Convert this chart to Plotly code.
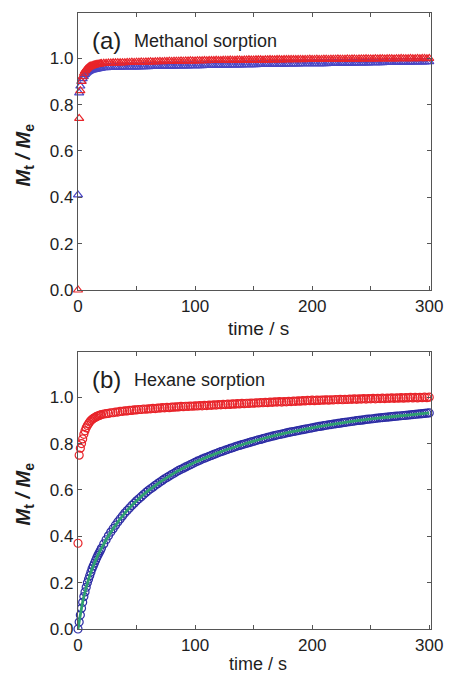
import plotly.graph_objects as go

# ---------------- data ----------------
time_s = [0, 1, 2, 3, 4, 5, 6, 7, 8, 9, 10, 11, 12, 13, 14, 15, 16, 17, 18, 19, 20,
          22, 24, 26, 28, 30, 32, 34, 36, 38, 40,
          42, 44, 46, 48, 50, 52, 54, 56, 58, 60,
          62, 64, 66, 68, 70, 72, 74, 76, 78, 80,
          82, 84, 86, 88, 90, 92, 94, 96, 98, 100,
          102, 104, 106, 108, 110, 112, 114, 116, 118, 120,
          122, 124, 126, 128, 130, 132, 134, 136, 138, 140,
          142, 144, 146, 148, 150, 152, 154, 156, 158, 160,
          162, 164, 166, 168, 170, 172, 174, 176, 178, 180,
          182, 184, 186, 188, 190, 192, 194, 196, 198, 200,
          202, 204, 206, 208, 210, 212, 214, 216, 218, 220,
          222, 224, 226, 228, 230, 232, 234, 236, 238, 240,
          242, 244, 246, 248, 250, 252, 254, 256, 258, 260,
          262, 264, 266, 268, 270, 272, 274, 276, 278, 280,
          282, 284, 286, 288, 290, 292, 294, 296, 298, 300]

methanol_red = [0.00, 0.74, 0.86, 0.90, 0.92, 0.935, 0.945, 0.952, 0.957, 0.961, 0.964,
                0.966, 0.968, 0.970, 0.971, 0.972, 0.973, 0.974, 0.975, 0.976, 0.977,
                0.978, 0.978, 0.979, 0.979, 0.980, 0.980, 0.981, 0.980, 0.981, 0.981,
                0.982, 0.982, 0.983, 0.982, 0.983, 0.983, 0.984, 0.983, 0.984, 0.984,
                0.985, 0.984, 0.985, 0.985, 0.986, 0.985, 0.986, 0.986, 0.987, 0.986,
                0.987, 0.987, 0.987, 0.988, 0.987, 0.988, 0.988, 0.989, 0.988, 0.988,
                0.989, 0.989, 0.989, 0.990, 0.989, 0.990, 0.990, 0.990, 0.991, 0.990,
                0.990, 0.991, 0.991, 0.991, 0.992, 0.991, 0.991, 0.992, 0.992, 0.991,
                0.992, 0.992, 0.993, 0.992, 0.992, 0.993, 0.993, 0.993, 0.992, 0.993,
                0.993, 0.994, 0.993, 0.993, 0.994, 0.994, 0.993, 0.994, 0.994, 0.994,
                0.995, 0.994, 0.994, 0.995, 0.995, 0.994, 0.995, 0.995, 0.996, 0.995,
                0.995, 0.996, 0.995, 0.995, 0.996, 0.996, 0.995, 0.996, 0.996, 0.996,
                0.997, 0.996, 0.996, 0.996, 0.997, 0.996, 0.997, 0.997, 0.996, 0.997,
                0.997, 0.997, 0.998, 0.997, 0.997, 0.997, 0.998, 0.997, 0.998, 0.998,
                0.997, 0.998, 0.998, 0.998, 0.997, 0.998, 0.998, 0.999, 0.998, 0.998,
                0.998, 0.999, 0.998, 0.998, 0.999, 0.998, 0.999, 0.999, 0.998, 0.999]

methanol_blue = [0.41, 0.85, 0.88, 0.90, 0.912, 0.922, 0.930, 0.936, 0.940, 0.943, 0.946,
                 0.948, 0.950, 0.951, 0.952, 0.953, 0.954, 0.955, 0.956, 0.957, 0.958,
                 0.959, 0.959, 0.960, 0.960, 0.960, 0.961, 0.961, 0.961, 0.962, 0.962,
                 0.962, 0.962, 0.963, 0.963, 0.963, 0.963, 0.964, 0.964, 0.964, 0.964,
                 0.965, 0.965, 0.965, 0.965, 0.965, 0.966, 0.966, 0.966, 0.966, 0.966,
                 0.966, 0.967, 0.967, 0.967, 0.967, 0.967, 0.967, 0.968, 0.968, 0.968,
                 0.968, 0.968, 0.968, 0.969, 0.969, 0.969, 0.969, 0.969, 0.970, 0.970,
                 0.970, 0.970, 0.970, 0.970, 0.971, 0.971, 0.971, 0.971, 0.971, 0.971,
                 0.972, 0.972, 0.972, 0.972, 0.972, 0.972, 0.973, 0.973, 0.973, 0.973,
                 0.973, 0.973, 0.974, 0.974, 0.974, 0.974, 0.974, 0.974, 0.975, 0.975,
                 0.975, 0.975, 0.975, 0.975, 0.976, 0.976, 0.976, 0.976, 0.976, 0.976,
                 0.977, 0.977, 0.977, 0.977, 0.977, 0.977, 0.978, 0.978, 0.978, 0.978,
                 0.978, 0.978, 0.979, 0.979, 0.979, 0.979, 0.979, 0.979, 0.980, 0.980,
                 0.980, 0.980, 0.980, 0.980, 0.981, 0.981, 0.981, 0.981, 0.981, 0.981,
                 0.982, 0.982, 0.982, 0.982, 0.982, 0.982, 0.983, 0.983, 0.983, 0.983,
                 0.983, 0.983, 0.984, 0.984, 0.984, 0.984, 0.984, 0.984, 0.985, 0.985]

hexane_red = [0.37, 0.75, 0.78, 0.80, 0.82, 0.84, 0.855, 0.868, 0.878, 0.886, 0.893,
              0.899, 0.904, 0.908, 0.911, 0.914, 0.917, 0.919, 0.921, 0.923, 0.925,
              0.927, 0.929, 0.930, 0.933, 0.933, 0.936, 0.936, 0.939, 0.939, 0.941,
              0.941, 0.943, 0.943, 0.945, 0.945, 0.947, 0.947, 0.949, 0.948, 0.950,
              0.950, 0.952, 0.951, 0.953, 0.953, 0.955, 0.954, 0.956, 0.955, 0.957,
              0.957, 0.958, 0.958, 0.960, 0.959, 0.961, 0.960, 0.962, 0.961, 0.963,
              0.962, 0.964, 0.963, 0.965, 0.964, 0.966, 0.965, 0.967, 0.966, 0.968,
              0.967, 0.969, 0.968, 0.970, 0.969, 0.971, 0.970, 0.972, 0.971, 0.973,
              0.972, 0.974, 0.973, 0.975, 0.974, 0.976, 0.975, 0.977, 0.976, 0.978,
              0.977, 0.979, 0.978, 0.980, 0.979, 0.981, 0.979, 0.981, 0.980, 0.982,
              0.981, 0.983, 0.982, 0.984, 0.983, 0.985, 0.984, 0.986, 0.985, 0.987,
              0.985, 0.987, 0.986, 0.988, 0.987, 0.989, 0.987, 0.989, 0.988, 0.990,
              0.989, 0.991, 0.989, 0.991, 0.990, 0.992, 0.991, 0.993, 0.991, 0.993,
              0.992, 0.994, 0.992, 0.994, 0.993, 0.995, 0.993, 0.995, 0.994, 0.996,
              0.994, 0.996, 0.995, 0.997, 0.995, 0.997, 0.996, 0.998, 0.996, 0.998,
              0.997, 0.999, 0.997, 0.999, 0.997, 0.999, 0.998, 1.000, 0.998, 1.000]

hexane_blue = [0.00, 0.03, 0.06, 0.09, 0.115, 0.14, 0.16, 0.18, 0.20, 0.215, 0.23,
               0.245, 0.26, 0.272, 0.284, 0.296, 0.307, 0.318, 0.328, 0.338, 0.348,
               0.367, 0.385, 0.402, 0.418, 0.433, 0.448, 0.462, 0.475, 0.488, 0.500,
               0.511, 0.522, 0.533, 0.543, 0.553, 0.562, 0.571, 0.580, 0.589, 0.597,
               0.605, 0.612, 0.620, 0.627, 0.634, 0.641, 0.648, 0.654, 0.660, 0.666,
               0.672, 0.678, 0.684, 0.689, 0.694, 0.699, 0.704, 0.709, 0.714, 0.719,
               0.724, 0.728, 0.733, 0.737, 0.741, 0.745, 0.749, 0.753, 0.757, 0.761,
               0.765, 0.768, 0.772, 0.775, 0.779, 0.782, 0.786, 0.789, 0.792, 0.795,
               0.798, 0.801, 0.804, 0.807, 0.810, 0.813, 0.816, 0.818, 0.821, 0.824,
               0.827, 0.829, 0.832, 0.834, 0.837, 0.839, 0.841, 0.843, 0.846, 0.848,
               0.850, 0.852, 0.854, 0.856, 0.858, 0.860, 0.862, 0.864, 0.866, 0.868,
               0.870, 0.872, 0.874, 0.875, 0.877, 0.879, 0.881, 0.882, 0.884, 0.885,
               0.887, 0.888, 0.890, 0.891, 0.893, 0.894, 0.896, 0.897, 0.899, 0.900,
               0.901, 0.902, 0.904, 0.905, 0.906, 0.907, 0.909, 0.910, 0.911, 0.912,
               0.913, 0.914, 0.915, 0.916, 0.917, 0.918, 0.919, 0.920, 0.921, 0.922,
               0.923, 0.924, 0.925, 0.926, 0.927, 0.928, 0.929, 0.930, 0.931, 0.932]

fit_time = [0, 2, 5, 10, 15, 20, 30, 40, 50, 60, 80, 100, 120, 140, 160, 180, 200,
            220, 240, 260, 280, 300]
hexane_fit = [0.0, 0.06, 0.14, 0.23, 0.296, 0.348, 0.433, 0.500, 0.553, 0.597, 0.666,
              0.719, 0.761, 0.795, 0.824, 0.848, 0.868, 0.885, 0.900, 0.912, 0.922, 0.932]

x_tick_vals = [0, 50, 100, 150, 200, 250, 300]
x_tick_text = ["0", "", "100", "", "200", "", "300"]
y_tick_vals = [0.0, 0.2, 0.4, 0.6, 0.8, 1.0]
y_tick_text = ["0.0", "0.2", "0.4", "0.6", "0.8", "1.0"]

panel_labels = ["(a)", "(b)"]
panel_titles = ["Methanol sorption", "Hexane sorption"]

# ---------------- styling ----------------
RED = "#e8242a"
BLUE_A = "#4a46c4"
BLUE_B = "#2c2ca4"
GREEN = "#2fa070"
AXC = "#555555"
TXT = "#1e1e1e"
FONT = "Liberation Sans, Arial, sans-serif"

fig = go.Figure()


def mk(symbol, color):
    return dict(symbol=symbol, size=8, color=color, line=dict(width=1.2, color=color))


fig.add_trace(go.Scatter(x=time_s, y=methanol_blue, mode="markers", xaxis="x", yaxis="y",
                         marker=mk("triangle-up-open", BLUE_A),
                         showlegend=False, cliponaxis=False))
fig.add_trace(go.Scatter(x=time_s, y=methanol_red, mode="markers", xaxis="x", yaxis="y",
                         marker=mk("triangle-up-open", RED),
                         showlegend=False, cliponaxis=False))

fig.add_trace(go.Scatter(x=time_s, y=hexane_red, mode="markers", xaxis="x2", yaxis="y2",
                         marker=mk("circle-open", RED),
                         showlegend=False, cliponaxis=False))
fig.add_trace(go.Scatter(x=time_s, y=hexane_blue, mode="markers", xaxis="x2", yaxis="y2",
                         marker=mk("circle-open", BLUE_B),
                         showlegend=False, cliponaxis=False))
fig.add_trace(go.Scatter(x=fit_time, y=hexane_fit, mode="lines", xaxis="x2", yaxis="y2",
                         line=dict(color=GREEN, width=2.8, shape="spline"),
                         showlegend=False))

L, R, T, B = 78, 15, 13, 45
W, H = 455, 674
plot_h = H - T - B


def yfrac(px):
    return (H - B - px) / plot_h


top_dom = [yfrac(290), 1.0]
bot_dom = [0.0, yfrac(352)]

xcommon = dict(range=[0, 301.5], tickvals=x_tick_vals, ticktext=x_tick_text,
               ticks="inside", ticklen=4, tickcolor=AXC, tickwidth=1,
               showline=True, linecolor=AXC, linewidth=1.2, mirror="ticks",
               showgrid=False, zeroline=False,
               tickfont=dict(family=FONT, size=17, color=TXT))
ycommon = dict(range=[0, 1.195], tickvals=y_tick_vals, ticktext=y_tick_text,
               ticks="inside", ticklen=4, tickcolor=AXC, tickwidth=1,
               showline=True, linecolor=AXC, linewidth=1.2, mirror="ticks",
               showgrid=False, zeroline=False,
               tickfont=dict(family=FONT, size=17, color=TXT))

fig.update_layout(
    width=W, height=H,
    margin=dict(l=L, r=R, t=T, b=B),
    paper_bgcolor="white", plot_bgcolor="white",
    xaxis=dict(**xcommon, domain=[0, 1], anchor="y"),
    yaxis=dict(**ycommon, domain=top_dom, anchor="x"),
    xaxis2=dict(**xcommon, domain=[0, 1], anchor="y2"),
    yaxis2=dict(**ycommon, domain=bot_dom, anchor="x2"),
)

ytitle = "<b><i>M</i><sub>t</sub><i> / M</i><sub>e</sub></b>"
annots = []
for i, (lab, title) in enumerate(zip(panel_labels, panel_titles)):
    ax = "" if i == 0 else "2"
    annots.append(dict(text=lab, x=0.035, y=1.0, xref=f"x{ax} domain", yref=f"y{ax} domain",
                       xanchor="left", yanchor="top", yshift=-12, showarrow=False,
                       font=dict(family=FONT, size=24, color=TXT)))
    annots.append(dict(text=title, x=0.152, y=1.0, xref=f"x{ax} domain", yref=f"y{ax} domain",
                       xanchor="left", yanchor="top", yshift=-16, showarrow=False,
                       font=dict(family=FONT, size=18, color=TXT)))
    annots.append(dict(text="time / s", x=0.51, y=0, xref=f"x{ax} domain", yref=f"y{ax} domain",
                       xanchor="center", yanchor="top", yshift=(-26 if i == 0 else -23),
                       showarrow=False,
                       font=dict(family=FONT, size=19 if i == 0 else 18, color=TXT)))
    annots.append(dict(text=ytitle, x=0, y=0.5, xref=f"x{ax} domain", yref=f"y{ax} domain",
                       xanchor="center", yanchor="middle", xshift=-54, yshift=-4,
                       textangle=-90, showarrow=False,
                       font=dict(family=FONT, size=20, color=TXT)))
fig.update_layout(annotations=annots)

fig.write_html("out.html")
